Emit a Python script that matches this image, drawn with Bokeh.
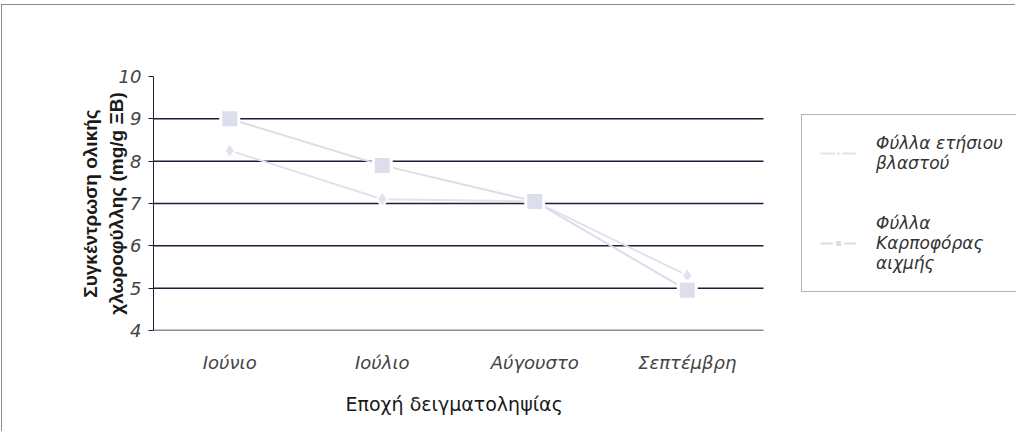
from bokeh.plotting import figure
from bokeh.models import (Range1d, LinearAxis, FixedTicker, Legend, LegendItem,
                          ColumnDataSource, Title)
from bokeh.embed import file_html
from bokeh.resources import INLINE

months = ["Ιούνιο", "Ιούλιο", "Αύγουστο", "Σεπτέμβρη"]
shoot_leaves = [8.25, 7.1, 7.05, 5.3]
fruit_leaves = [9.0, 7.9, 7.05, 4.95]
series_names = ["Φύλλα ετήσιου\nβλαστού", "Φύλλα\nΚαρποφόρας\nαιχμής"]
y_ticks = [4, 5, 6, 7, 8, 9, 10]

FIG_W, FIG_H = 1014, 427
LEFT, TOP, BOTTOM = 151, 71, 102
PLOT_W = 610          # pixel width of the category area; legend lives to its right
frame_w = FIG_W - LEFT
n = len(months)
x_end = n * frame_w / PLOT_W

# category slots: each month occupies one unit, its point at the slot centre
slot = [i + 0.5 for i in range(n)]
src = ColumnDataSource(dict(x=slot, s=shoot_leaves, f=fruit_leaves))
grid_y = y_ticks[:-1]
grid = ColumnDataSource(dict(x0=[0] * len(grid_y), x1=[n] * len(grid_y), y=grid_y))

p = figure(width=FIG_W, height=FIG_H, x_range=Range1d(0, x_end),
           y_range=Range1d(4, 10), output_backend="svg", toolbar_location=None,
           x_axis_location=None, min_border_left=LEFT, min_border_right=0,
           min_border_top=TOP, min_border_bottom=BOTTOM)
p.outline_line_color = None
p.styles = {"border-top": "1px solid #8c8c8c", "border-left": "1px solid #8c8c8c",
            "margin-top": "4px", "margin-left": "1px"}

# y axis
ya = p.yaxis[0]
ya.ticker = FixedTicker(ticks=y_ticks)
ya.axis_line_color = "#1a1f3a"
ya.major_tick_line_color = "#1a1f3a"
ya.major_tick_out = 5
ya.major_tick_in = 0
ya.minor_tick_line_color = None
ya.major_label_text_font = "DejaVu Sans"
ya.major_label_text_font_style = "italic"
ya.major_label_text_font_size = "18px"
ya.major_label_text_color = "#444444"
ya.major_label_standoff = 7
ya.axis_label = "Συγκέντρωση ολικής\nχλωροφύλλης (mg/g ΞΒ)"
ya.axis_label_text_font = "Liberation Sans"
ya.axis_label_text_font_style = "bold"
ya.axis_label_text_font_size = "19px"
ya.axis_label_text_color = "#1a1a1a"
ya.axis_label_standoff = -11

p.ygrid.grid_line_color = None
p.xgrid.grid_line_color = None
# horizontal gridlines limited to the category area (y=4 acts as the x axis line)
p.segment("x0", "y", "x1", "y", source=grid, line_color="#1a1f3a", line_width=1.5)

# category labels at slot centres
xa = LinearAxis(ticker=FixedTicker(ticks=slot),
                major_label_overrides={s: m for s, m in zip(slot, months)},
                axis_line_color=None, major_tick_line_color=None, minor_tick_line_color=None,
                major_label_text_font="DejaVu Sans", major_label_text_font_style="italic",
                major_label_text_font_size="18px", major_label_text_color="#444444",
                major_label_standoff=15)
p.add_layout(xa, "below")

xtitle = Title(text="Εποχή δειγματοληψίας", align="left", offset=192,
               text_font="DejaVu Sans", text_font_style="normal", text_font_size="19px",
               text_color="#1a1a1a", standoff=30)
p.add_layout(xtitle, "below")

# series
l1 = p.line("x", "s", source=src, line_color="#e2e2ec", line_width=2)
m1 = p.scatter("x", "s", source=src, marker="diamond", size=16, fill_color="#e2e3ef",
               line_color="white", line_width=2)
l2 = p.line("x", "f", source=src, line_color="#dcdde9", line_width=2)
m2 = p.scatter("x", "f", source=src, marker="square", size=18, fill_color="#dcdeec",
               line_color="white", line_width=3)

legend = Legend(items=[LegendItem(label=series_names[0], renderers=[l1, m1]),
                       LegendItem(label=series_names[1], renderers=[l2, m2])],
                location=(PLOT_W + 38, 38), border_line_color="#6a6a6a", border_line_width=1,
                background_fill_color="white", background_fill_alpha=1,
                label_text_font="DejaVu Sans", label_text_font_style="italic",
                label_text_font_size="17px", label_text_color="#333333",
                label_standoff=20, glyph_width=36, spacing=40, padding=18, margin=0,
                label_text_line_height=1.7)
p.add_layout(legend, "center")

open("out.html", "w").write(file_html(p, INLINE))
